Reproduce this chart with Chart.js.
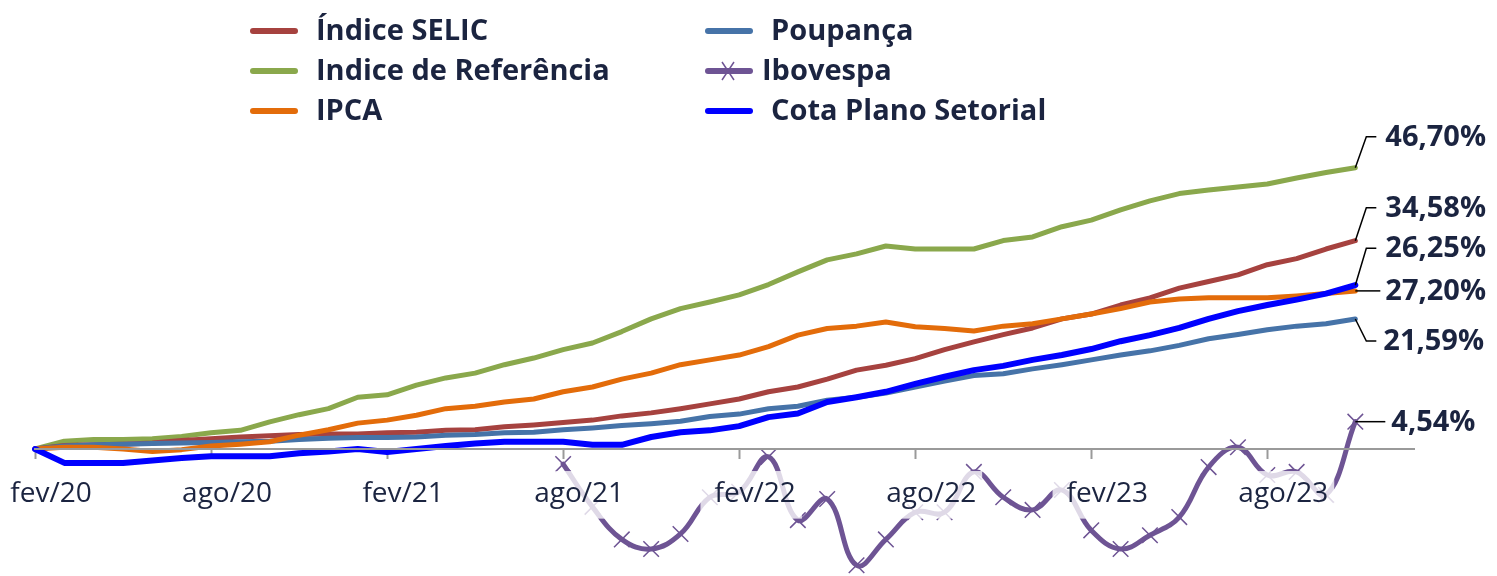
<!DOCTYPE html>
<html lang="pt-BR">
<head>
  <meta charset="UTF-8">
  <title>Rentabilidade acumulada</title>
  <script src="https://cdn.jsdelivr.net/npm/chart.js"></script>
  <style>
    html, body {
      margin: 0;
      padding: 0;
      background: #ffffff;
    }
    .container {
      position: relative;
      width: 1497px;
      height: 576px;
    }
  </style>
</head>
<body>
<div class="container">
  <canvas id="rentabChart"></canvas>
</div>

<script>
  // meses (fev/20 .. jan/24), só um a cada seis aparece no eixo
  const meses = [
    'fev/20', 'mar/20', 'abr/20', 'mai/20', 'jun/20', 'jul/20', 'ago/20', 'set/20', 'out/20', 'nov/20', 'dez/20',
    'jan/21', 'fev/21', 'mar/21', 'abr/21', 'mai/21', 'jun/21', 'jul/21', 'ago/21', 'set/21', 'out/21', 'nov/21', 'dez/21',
    'jan/22', 'fev/22', 'mar/22', 'abr/22', 'mai/22', 'jun/22', 'jul/22', 'ago/22', 'set/22', 'out/22', 'nov/22', 'dez/22',
    'jan/23', 'fev/23', 'mar/23', 'abr/23', 'mai/23', 'jun/23', 'jul/23', 'ago/23', 'set/23', 'out/23', 'nov/23', 'dez/23',
    'jan/24'
  ];

  // rentabilidade acumulada (%)
  const selic = [0, 0.6, 0.7, 0.8, 1.0, 1.4, 1.7, 2.0, 2.2, 2.4, 2.5, 2.5, 2.7, 2.8, 3.1, 3.2, 3.7, 4.0, 4.4, 4.8,
    5.5, 6.0, 6.7, 7.5, 8.3, 9.5, 10.3, 11.6, 13.1, 13.9, 15.0, 16.5, 17.8, 19.0, 20.1, 21.6, 22.4, 23.9, 25.1, 26.7,
    27.8, 28.9, 30.6, 31.6, 33.2, 34.58];
  const referencia = [0, 1.3, 1.6, 1.6, 1.7, 2.1, 2.7, 3.1, 4.5, 5.7, 6.7, 8.6, 9.0, 10.6, 11.8, 12.6, 14.0, 15.1, 16.5, 17.6,
    19.5, 21.6, 23.3, 24.4, 25.6, 27.3, 29.4, 31.4, 32.4, 33.7, 33.2, 33.2, 33.2, 34.6, 35.2, 36.9, 38.0, 39.7, 41.2, 42.4,
    43.0, 43.5, 44.0, 45.0, 45.9, 46.70];
  const ipca = [0, 0.3, 0.3, 0, -0.4, -0.1, 0.5, 0.8, 1.2, 2.3, 3.2, 4.3, 4.8, 5.6, 6.7, 7.1, 7.8, 8.3, 9.5, 10.3,
    11.6, 12.6, 14.0, 14.8, 15.6, 17.0, 18.9, 20.0, 20.4, 21.1, 20.3, 20.0, 19.6, 20.4, 20.8, 21.6, 22.4, 23.3, 24.4, 24.9,
    25.1, 25.1, 25.1, 25.4, 25.8, 26.25];
  const poupanca = [0, 0.5, 0.7, 0.8, 0.9, 1.0, 1.1, 1.2, 1.3, 1.6, 1.8, 1.9, 1.9, 2.0, 2.3, 2.4, 2.7, 2.8, 3.2, 3.5,
    3.9, 4.2, 4.6, 5.4, 5.8, 6.7, 7.1, 8.1, 8.6, 9.3, 10.3, 11.3, 12.2, 12.5, 13.3, 14.0, 14.8, 15.6, 16.3, 17.2,
    18.3, 19.0, 19.8, 20.4, 20.8, 21.59];
  const ibovespa = [null, null, null, null, null, null, null, null, null, null, null, null, null, null, null, null, null, null,
    -2.5, -9.6, -15.0, -16.6, -14.1, -8.0, -7.1, -1.3, -11.8, -8.3, -19.3, -15.0, -10.5, -10.5, -3.8, -8.0, -10.1, -6.8,
    -13.5, -16.6, -14.3, -11.3, -3.0, 0.3, -4.3, -3.8, -7.6, 4.54];
  const cotaSetorial = [0, -2.3, -2.3, -2.3, -1.9, -1.5, -1.2, -1.2, -1.2, -0.7, -0.4, 0.0, -0.5, 0.0, 0.5, 0.9, 1.2, 1.2, 1.2, 0.7,
    0.7, 2.0, 2.8, 3.1, 3.8, 5.3, 5.9, 7.8, 8.6, 9.5, 10.8, 12.0, 13.1, 13.8, 14.8, 15.6, 16.6, 17.9, 18.9, 20.1,
    21.6, 22.9, 23.9, 24.8, 25.8, 27.20];

  // rótulos do último ponto, na ordem das séries
  const rotulosFinais = ['34,58%', '46,70%', '27,20%', '21,59%', '4,54%', '26,25%'];

  const corTexto = '#1b2440';

  // legenda em duas colunas (3 linhas cada)
  const legendaDuasColunas = {
    id: 'legendaDuasColunas',
    afterDraw(chart) {
      const ctx = chart.ctx;
      ctx.save();
      ctx.font = 'bold 29px "Open Sans"';
      ctx.textBaseline = 'middle';
      chart.data.datasets.forEach((ds, i) => {
        const col = Math.floor(i / 3);
        const x = col === 0 ? 250 : 705;
        const y = 31 + (i % 3) * 40;
        ctx.strokeStyle = ds.borderColor;
        ctx.lineWidth = 6;
        ctx.lineCap = 'round';
        ctx.beginPath();
        ctx.moveTo(x + 3, y);
        ctx.lineTo(x + 45, y);
        ctx.stroke();
        if (ds.pointStyle === 'crossRot') {
          ctx.lineWidth = 1.5;
          ctx.lineCap = 'butt';
          ctx.beginPath();
          ctx.moveTo(x + 17, y - 9); ctx.lineTo(x + 29, y + 9);
          ctx.moveTo(x + 29, y - 9); ctx.lineTo(x + 17, y + 9);
          ctx.stroke();
        }
        ctx.fillStyle = corTexto;
        // "Ibovespa" fica um pouco mais perto do marcador, como no original
        ctx.fillText(ds.label, ds.pointStyle === 'crossRot' ? x + 57 : x + 66, y + 1);
      });
      ctx.restore();
    }
  };

  // valores finais com linha de chamada
  const rotulosFim = {
    id: 'rotulosFim',
    afterDraw(chart, args, opts) {
      const ctx = chart.ctx;
      ctx.save();
      ctx.font = 'bold 29px "Open Sans"';
      ctx.textBaseline = 'middle';
      ctx.strokeStyle = '#000000';
      ctx.lineWidth = 1.5;
      opts.itens.forEach(it => {
        const meta = chart.getDatasetMeta(it.ds);
        const pt = meta.data[meta.data.length - 1];
        const ty = pt.y + it.dy;
        ctx.beginPath();
        ctx.moveTo(pt.x, pt.y);
        if (it.dy !== 0) {
          ctx.lineTo(pt.x + 11, ty);
          ctx.lineTo(pt.x + 21, ty);
        } else {
          ctx.lineTo(pt.x + it.len, ty);
        }
        ctx.stroke();
        ctx.fillStyle = corTexto;
        ctx.fillText(rotulosFinais[it.ds], pt.x + it.dx, ty + 1);
      });
      ctx.restore();
    }
  };

  const ctx = document.getElementById('rentabChart').getContext('2d');
  new Chart(ctx, {
    type: 'line',
    data: {
      labels: meses,
      datasets: [
        { label: 'Índice SELIC', data: selic, borderColor: '#a6423f', borderWidth: 5, order: 4 },
        { label: 'Indice de Referência', data: referencia, borderColor: '#8aa84c', borderWidth: 5, order: 5 },
        { label: 'IPCA', data: ipca, borderColor: '#e36c0a', borderWidth: 5, order: 2 },
        { label: 'Poupança', data: poupanca, borderColor: '#4673a8', borderWidth: 5, order: 3 },
        {
          label: 'Ibovespa', data: ibovespa, borderColor: '#6e5494', borderWidth: 5, order: 1,
          tension: 0.4, pointStyle: 'crossRot', pointRadius: 11, pointBorderWidth: 1.5,
          pointBorderColor: '#6e5494', clip: false
        },
        { label: 'Cota Plano Setorial', data: cotaSetorial, borderColor: '#0000ff', borderWidth: 6, order: 0 }
      ]
    },
    options: {
      responsive: true,
      maintainAspectRatio: false,
      animation: false,
      events: [],
      elements: {
        point: { radius: 0 },
        line: { tension: 0, borderCapStyle: 'round', borderJoinStyle: 'round' }
      },
      layout: {
        padding: { top: 146, bottom: 3, left: 35, right: 83 }
      },
      scales: {
        x: {
          type: 'category',
          position: { y: 0 },
          offset: false,
          grid: { drawOnChartArea: false, drawTicks: true, tickLength: 9, tickColor: '#9a9a9a', tickWidth: 2 },
          border: { display: true, color: '#9a9a9a', width: 2, z: 1 },
          ticks: {
            z: 1,
            autoSkip: false,
            maxRotation: 0,
            labelOffset: 16,
            padding: 19,
            color: corTexto,
            font: { family: 'Open Sans', size: 28 },
            showLabelBackdrop: true,
            backdropColor: 'rgba(255, 255, 255, 0.78)',
            backdropPadding: { top: 6, bottom: 8, left: 14, right: 6 },
            callback: function(value, index) {
              return index % 6 === 0 ? this.getLabelForValue(value) : null;
            }
          },
          afterFit: function(scale) {
            scale.paddingLeft = 0;
            scale.paddingRight = 0;
            scale.paddingTop = 0;
            scale.paddingBottom = 0;
          }
        },
        y: {
          display: false,
          min: -19,
          max: 50.3
        }
      },
      plugins: {
        legend: { display: false },
        tooltip: { enabled: false },
        rotulosFim: {
          itens: [
            { ds: 1, dy: -31, dx: 30 },
            { ds: 0, dy: -33, dx: 30 },
            { ds: 5, dy: -37, dx: 30 },
            { ds: 2, dy: 0, dx: 30, len: 25 },
            { ds: 3, dy: 22, dx: 28 },
            { ds: 4, dy: 0, dx: 36, len: 30 }
          ]
        }
      }
    },
    plugins: [legendaDuasColunas, rotulosFim]
  });
</script>
</body>
</html>
